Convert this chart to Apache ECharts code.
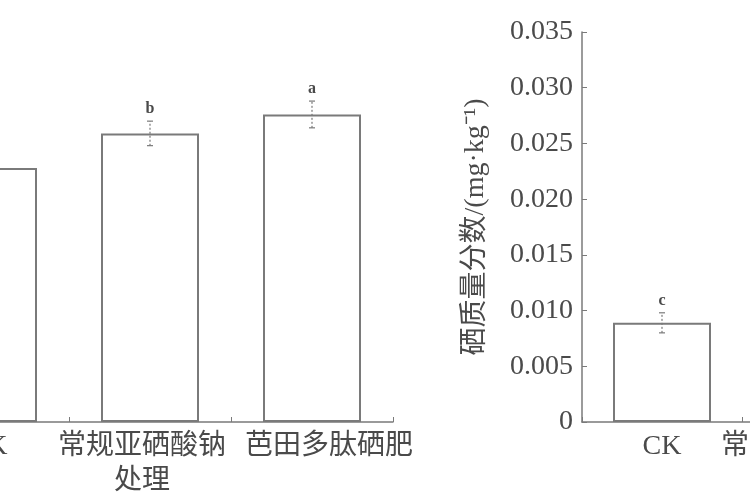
<!DOCTYPE html>
<html><head><meta charset="utf-8">
<script src="https://cdn.jsdelivr.net/npm/echarts@6/dist/echarts.min.js"></script>
<style>html,body{margin:0;padding:0;background:#fff;overflow:hidden;width:750px;height:500px}#c{position:absolute;left:-200px;top:0;width:1300px;height:500px}</style>
</head><body><div id="c"></div>
<script>
// Left panel (partially visible)
var leftCategories = ['CK', '常规亚硒酸钠\n处理', '芭田多肽硒肥'];
var leftValues = [0.0228, 0.0259, 0.0276];
var leftErrors = [0.0011, 0.0011, 0.0012];
var leftLetters = ['c', 'b', 'a'];
// Right panel (partially visible)
var rightCategories = ['CK', '常规亚硒酸钠\n处理', '芭田多肽硒肥'];
var rightValues = [0.0089, null, null];
var rightErrors = [0.0009, null, null];
var rightLetters = ['c', '', ''];
var yTicks = [0, 0.005, 0.010, 0.015, 0.020, 0.025, 0.030, 0.035];

var OFFSET = 200; // chart canvas is shifted 200px to the left of the page
var textColor = '#4a4a4a';
var lineColor = '#7a7a7a';
var fontFam = '"Liberation Serif","Noto Sans CJK SC",serif';
// small per-label horizontal nudges [left, right] padding
var labelPads = [[0, 0], [0, 16], [0, 0]];
var labelPadsLeftPanel = [[0, 0], [0, 16], [34, 0]];

function errData(vals, errs, letters) {
  var out = [];
  for (var i = 0; i < vals.length; i++) {
    if (vals[i] == null) continue;
    out.push([i, vals[i] - errs[i], vals[i] + errs[i], letters[i]]);
  }
  return out;
}
function renderErr(params, api) {
  var x = api.value(0);
  var lo = api.coord([x, api.value(1)]);
  var hi = api.coord([x, api.value(2)]);
  var cap = 3;
  var st = {stroke: lineColor, lineWidth: 1.2};
  return {type: 'group', children: [
    {type: 'line', shape: {x1: lo[0], y1: lo[1], x2: hi[0], y2: hi[1]}, style: {stroke: lineColor, lineWidth: 1.2, lineDash: [2, 2]}},
    {type: 'line', shape: {x1: lo[0] - cap, y1: lo[1], x2: lo[0] + cap, y2: lo[1]}, style: st},
    {type: 'line', shape: {x1: hi[0] - cap, y1: hi[1], x2: hi[0] + cap, y2: hi[1]}, style: st},
    {type: 'text', x: hi[0], y: hi[1] - 4, style: {text: api.value(3), fill: textColor, font: 'bold 16px ' + fontFam, align: 'center', verticalAlign: 'bottom'}}
  ]};
}
function catData(cats, pads) {
  return cats.map(function (c, i) {
    var p = pads[i];
    return {value: c, textStyle: {padding: [0, p[1], 0, p[0]]}};
  });
}

var xAxisCommon = {
  type: 'category',
  axisLine: {lineStyle: {color: lineColor, width: 1.5}},
  axisTick: {show: true, inside: true, length: 5, alignWithLabel: false, lineStyle: {color: lineColor}},
  axisLabel: {interval: 0, color: textColor, fontSize: 28, fontFamily: fontFam, margin: 7, lineHeight: 35},
  splitLine: {show: false}
};

var chart = echarts.init(document.getElementById('c'));
chart.setOption({
  animation: false,
  backgroundColor: '#fff',
  grid: [
    {left: -93 + OFFSET, width: 486, top: 32, height: 390, containLabel: false},
    {left: 582 + OFFSET, width: 480, top: 32, height: 390, containLabel: false}
  ],
  xAxis: [
    Object.assign({}, xAxisCommon, {gridIndex: 0, data: catData(leftCategories, labelPadsLeftPanel)}),
    Object.assign({}, xAxisCommon, {gridIndex: 1, data: catData(rightCategories, [[0, 0], [0, 34], [0, 0]])})
  ],
  yAxis: [
    {type: 'value', gridIndex: 0, min: 0, max: 0.035, interval: 0.005, show: false},
    {type: 'value', gridIndex: 1, min: 0, max: 0.035, interval: 0.005,
      name: '硒质量分数/(mg·kg⁻¹)', nameLocation: 'middle', nameGap: 92, nameRotate: 90,
      nameTextStyle: {color: textColor, fontSize: 28, fontFamily: fontFam},
      axisLine: {show: true, lineStyle: {color: lineColor, width: 1.5}},
      axisTick: {show: true, inside: true, length: 5, lineStyle: {color: lineColor}},
      axisLabel: {color: textColor, fontSize: 28, fontFamily: fontFam, margin: 9,
        formatter: function (v) { return v === 0 ? '0' : v.toFixed(3); }},
      splitLine: {show: false}
    }
  ],
  series: [
    {type: 'bar', xAxisIndex: 0, yAxisIndex: 0, data: leftValues, barWidth: 98,
      itemStyle: {color: '#fff', borderColor: lineColor, borderWidth: 2}},
    {type: 'custom', xAxisIndex: 0, yAxisIndex: 0, data: errData(leftValues, leftErrors, leftLetters), renderItem: renderErr, z: 5},
    {type: 'bar', xAxisIndex: 1, yAxisIndex: 1, data: rightValues, barWidth: 98,
      itemStyle: {color: '#fff', borderColor: lineColor, borderWidth: 2}},
    {type: 'custom', xAxisIndex: 1, yAxisIndex: 1, data: errData(rightValues, rightErrors, rightLetters), renderItem: renderErr, z: 5}
  ]
});
</script></body></html>
